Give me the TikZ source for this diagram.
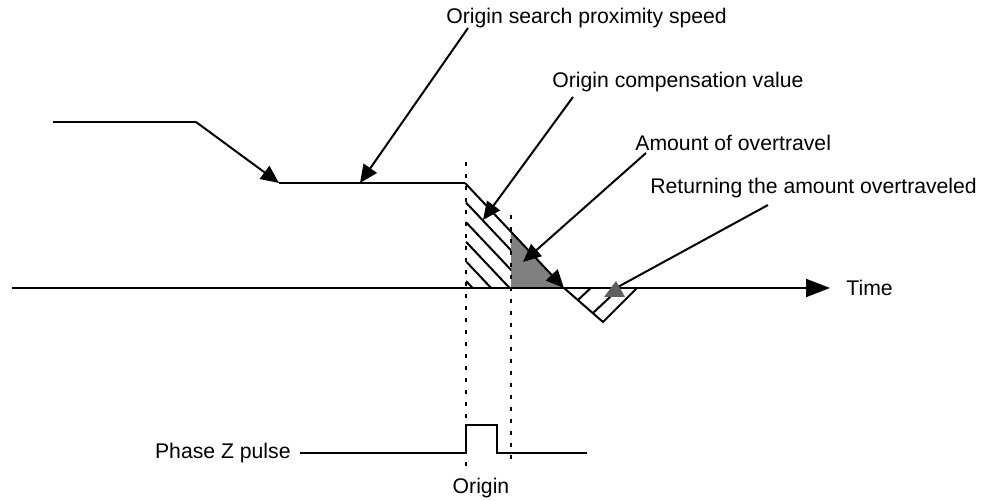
\documentclass[tikz,border=0pt]{standalone}
\usepackage{fontspec}
\setmainfont{Liberation Sans}
\usepackage{tikz}
\usetikzlibrary{positioning, arrows.meta, calc}

\definecolor{overgray}{HTML}{808080}
\definecolor{retgray}{HTML}{5F5F5F}

\begin{document}
\begin{tikzpicture}[
            x=0.5pt, y=-0.5pt,
            edge/.style={line width=1pt},
            callout/.style={line width=1pt, -{Triangle[length=9pt, width=8pt]}},
            guide/.style={line width=0.8pt, dash pattern=on 2pt off 4pt},
            hatch/.style={line width=1pt},
            lbl/.style={inner sep=0pt, font=\fontsize{10.6}{12}\selectfont}
        ]
        \useasboundingbox (0,0) rectangle (991,501);

        % Punkte
        \coordinate (p0) at (53,122);
        \coordinate (p1) at (196,122);
        \coordinate (p2) at (279,183);
        \coordinate (p3) at (465,183);
        \coordinate (p4) at (564,288);
        \coordinate (cut) at (511,232);
        \coordinate (vbot) at (603,322);
        \coordinate (vend) at (637,288);
        \coordinate (ax0) at (12,288);
        \coordinate (ax1) at (830,288);

        % Labels
        \node[lbl, anchor=west] (speedlbl) at (446,18) {Origin search proximity speed};
        \node[lbl, anchor=west] (complbl) at (552,82) {Origin compensation value};
        \node[lbl, anchor=west] (overlbl) at (635,143) {Amount of overtravel};
        \node[lbl, anchor=west] (retlbl) at (650,188) {Returning the amount overtraveled};
        \node[lbl, anchor=west] (time) at (846,288) {Time};
        \node[lbl, anchor=east] (zlbl) at (291,453) {Phase Z pulse};
        \node[lbl] (origin) at (481,488) {Origin};

        % Flaechen
        \fill[overgray] (cut) -- (511,288) -- (p4) -- cycle;
        \begin{scope}
            \clip (p3) -- (cut) -- (511,288) -- (466,288) -- cycle;
            \foreach \k in {1,...,6}
                \draw[hatch] (466,183+19.6*\k) -- ++(80,84.8);
        \end{scope}
        \begin{scope}
            \clip (p4) -- (vbot) -- (vend) -- cycle;
            \draw[hatch] (578,300) -- ++(40,-37.6);
            \draw[hatch] (593,313) -- ++(50,-47);
        \end{scope}

        % Hilfslinien
        \draw[guide] (466,162) -- (466,466);
        \draw[guide] (511,215) -- (511,466);

        % Kurven
        \draw[edge, -{Triangle[length=12pt, width=9pt]}] (ax0) -- (ax1);
        \draw[edge] (p0) -- (p1);
        \draw[callout] (p1) -- (p2);
        \draw[edge] (p2) -- (p3);
        \draw[callout] (p3) -- (p4);
        \draw[edge] (p4) -- (vbot) -- (vend);

        % Z-Puls
        \coordinate (z0) at (300,453);
        \draw[edge] (z0) -- (466,453) -- (466,425) -- (497,425) -- (497,453) -- (587,453);

        % Pfeile
        \coordinate (speedtop) at (468,28);
        \coordinate (speedtip) at (360,183);
        \coordinate (comptop) at (573,97);
        \coordinate (comptip) at (483,220);
        \coordinate (overtop) at (646,153);
        \coordinate (overtip) at (523,262);
        \coordinate (rettop) at (768,205);
        \coordinate (rettip) at (616,288);
        \draw[callout] (speedtop) -- (speedtip);
        \draw[callout] (comptop) -- (comptip);
        \draw[callout] (overtop) -- (overtip);
        \draw[edge] (rettop) -- (rettip);
        \fill[retgray] (616,281) -- (625,297) -- (604,297) -- cycle;

    \end{tikzpicture}
\end{document}
